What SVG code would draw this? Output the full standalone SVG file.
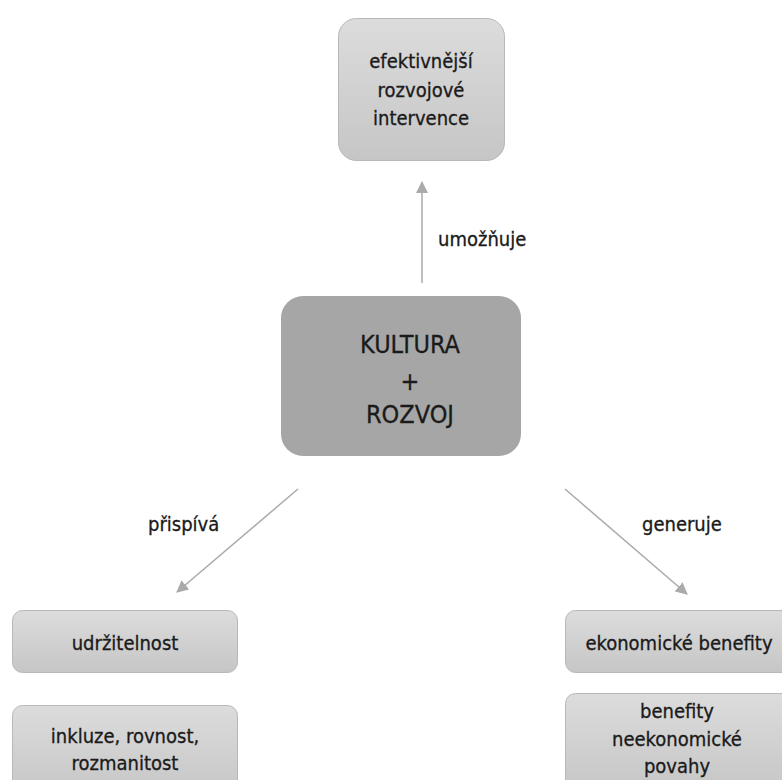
<svg xmlns="http://www.w3.org/2000/svg" width="782" height="780" viewBox="0 0 782 780">
<defs>
<linearGradient id="g" x1="0" y1="0" x2="0" y2="1">
<stop offset="0" stop-color="#dcdcdc"/>
<stop offset="1" stop-color="#c6c6c6"/>
</linearGradient>
<marker id="ah" viewBox="0 0 12 12" refX="11" refY="6" markerWidth="12" markerHeight="12" markerUnits="userSpaceOnUse" orient="auto">
<path d="M0,0 L12,6 L0,12 z" fill="#aaaaaa"/>
</marker>
<style>
.box{fill:url(#g);stroke:#b8b8b8;stroke-width:1}
.main{fill:#a6a6a6}
text{font-family:"DejaVu Sans Condensed","DejaVu Sans",sans-serif;fill:#1a1a1a;font-size:20px;text-anchor:middle;stroke:#1a1a1a;stroke-width:0.3}
.big{font-size:25px}
.lbl{text-anchor:start}
.c{stroke:#aaaaaa;stroke-width:1.5;fill:none;marker-end:url(#ah)}
</style>
</defs>
<rect width="782" height="780" fill="#ffffff"/>
<g id="connectors">
<line class="c" x1="422" y1="283" x2="422" y2="182"/>
<line class="c" x1="298" y1="489" x2="177" y2="592"/>
<line class="c" x1="565" y1="489" x2="687" y2="594"/>
<text class="lbl" x="438" y="246">umožňuje</text>
<text class="lbl" x="148" y="531">přispívá</text>
<text class="lbl" x="642" y="531">generuje</text>
</g>
<g id="top">
<rect class="box" x="338.5" y="18.5" width="166" height="142" rx="18"/>
<text x="421" y="68">efektivnější</text>
<text x="421" y="97">rozvojové</text>
<text x="421" y="125">intervence</text>
</g>
<g id="center">
<rect class="main" x="281" y="296" width="240" height="160" rx="22"/>
<text class="big" x="410" y="353">KULTURA</text>
<text class="big" x="410" y="390">+</text>
<text class="big" x="410" y="423">ROZVOJ</text>
</g>
<g id="udrzitelnost">
<rect class="box" x="12.5" y="610.5" width="225" height="62" rx="10"/>
<text x="125" y="650">udržitelnost</text>
</g>
<g id="inkluze">
<rect class="box" x="12.5" y="705.5" width="225" height="90" rx="10"/>
<text x="125" y="743">inkluze, rovnost,</text>
<text x="125" y="770">rozmanitost</text>
</g>
<g id="ekonomicke">
<rect class="box" x="565.5" y="610.5" width="230" height="62" rx="10"/>
<text x="679" y="650">ekonomické benefity</text>
</g>
<g id="neekonomicke">
<rect class="box" x="565.5" y="693.5" width="230" height="100" rx="10"/>
<text x="677" y="718">benefity</text>
<text x="677" y="746">neekonomické</text>
<text x="677" y="773">povahy</text>
</g>
</svg>
